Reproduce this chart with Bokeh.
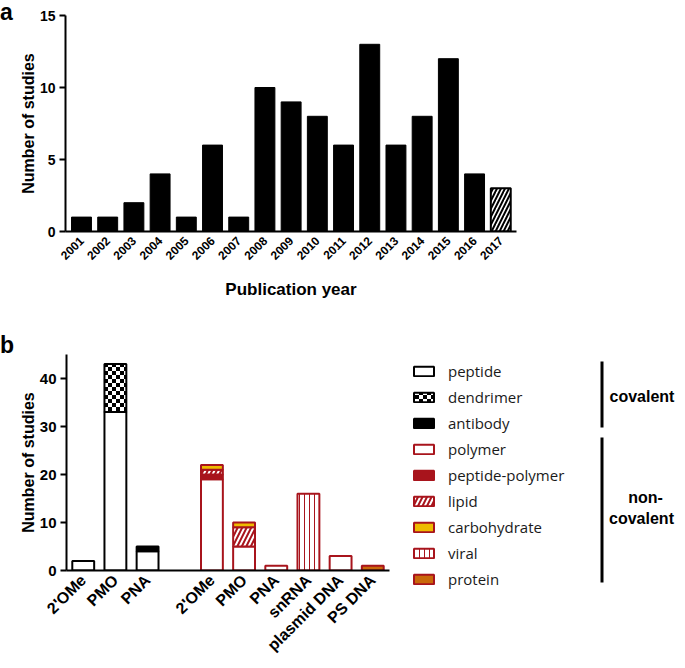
import numpy as np
from bokeh.plotting import figure
from bokeh.models import (ColumnDataSource, Range1d, FixedTicker, Label, Legend,
                          LegendItem, BoxAnnotation, CanvasTexture, Div)
from bokeh.layouts import column, row
from bokeh.embed import file_html
from bokeh.resources import INLINE
from bokeh.core.properties import value

# ---------------- panel a data ----------------
years = ["2001", "2002", "2003", "2004", "2005", "2006", "2007", "2008", "2009",
         "2010", "2011", "2012", "2013", "2014", "2015", "2016", "2017"]
studies = [1, 1, 2, 4, 1, 6, 1, 10, 9, 8, 6, 13, 6, 8, 12, 4, 3]
incomplete_years = ["2017"]
a_yticks = [0, 5, 10, 15]

# ---------------- panel b data ----------------
chemistries = ["2'OMe", "PMO", "PNA", "2'OMe", "PMO", "PNA", "snRNA", "plasmid DNA", "PS DNA"]
conjugation = ["covalent", "covalent", "covalent", "non-covalent", "non-covalent",
               "non-covalent", "non-covalent", "non-covalent", "non-covalent"]
peptide = [2, 33, 4, 0, 0, 0, 0, 0, 0]
dendrimer = [0, 10, 0, 0, 0, 0, 0, 0, 0]
antibody = [0, 0, 1, 0, 0, 0, 0, 0, 0]
polymer = [0, 0, 0, 19, 5, 1, 0, 3, 0]
peptide_polymer = [0, 0, 0, 1, 0, 0, 0, 0, 0]
lipid = [0, 0, 0, 1, 4, 0, 0, 0, 0]
carbohydrate = [0, 0, 0, 1, 1, 0, 0, 0, 0]
viral = [0, 0, 0, 0, 0, 0, 16, 0, 0]
protein = [0, 0, 0, 0, 0, 0, 0, 0, 1]
b_yticks = [0, 10, 20, 30, 40]

FONT = "Liberation Sans"
DARKRED = "#A8141C"


def style_axes(p, ytick_size="14px"):
    p.grid.visible = False
    p.outline_line_color = None
    p.background_fill_color = "white"
    p.border_fill_color = "white"
    p.frame_align = False
    for ax in p.axis:
        ax.axis_line_width = 2
        ax.axis_line_color = "black"
        ax.major_tick_line_width = 2
        ax.major_tick_line_color = "black"
        ax.minor_tick_line_color = None
        ax.major_label_text_font = FONT
        ax.major_label_text_font_style = "bold"
        ax.major_label_text_color = "black"
        ax.axis_label_text_font = FONT
        ax.axis_label_text_font_style = "bold"
        ax.axis_label_text_font_size = "16px"
        ax.axis_label_text_color = "black"
    for ax in p.yaxis:
        ax.major_tick_out = 6
        ax.major_tick_in = 0
        ax.major_label_standoff = 4
        ax.axis_label_standoff = 0
        ax.major_label_text_font_size = ytick_size
    for ax in p.xaxis:
        ax.major_tick_out = 0
        ax.major_tick_in = 0
        ax.major_tick_line_color = None
        ax.major_label_orientation = np.pi / 4


def panel_letter(letter, pad_top):
    return Div(text=('<div style="font: bold 23px/24px \'Liberation Sans\', Arial, sans-serif; '
                     'color: black; padding-top: %dpx; margin: 0">%s</div>' % (pad_top, letter)),
               width=16, height=60, margin=(0, 0, 0, 0))


# ---------------- panel a ----------------
xa = np.arange(len(years))
studies_arr = np.array(studies)
is_incomplete = np.array([y in incomplete_years for y in years])

p1 = figure(width=667, height=307, output_backend="svg", toolbar_location=None,
            x_range=Range1d(-0.61, len(years) - 1 + 0.6), y_range=Range1d(0, 15),
            min_border_left=47, min_border_right=167, min_border_top=15, min_border_bottom=76)

src_full = ColumnDataSource(dict(x=xa[~is_incomplete], top=studies_arr[~is_incomplete]))
src_part = ColumnDataSource(dict(x=xa[is_incomplete], top=studies_arr[is_incomplete]))
p1.vbar(x="x", top="top", width=0.76, source=src_full,
        fill_color="black", line_color="black", line_width=1)
p1.vbar(x="x", top="top", width=0.76, source=src_part,
        fill_color="white", line_color="black", line_width=2,
        hatch_pattern=value("/"), hatch_color="black", hatch_weight=2, hatch_scale=8)

style_axes(p1, "14px")
p1.xaxis.ticker = FixedTicker(ticks=[int(v) for v in xa])
p1.xaxis.major_label_overrides = {int(i): y for i, y in zip(xa, years)}
p1.xaxis.major_label_text_font_size = "12px"
p1.xaxis.major_label_standoff = 7
p1.xaxis.axis_label = "Publication year"
p1.xaxis.axis_label_text_font_size = "17px"
p1.xaxis.axis_label_standoff = 13
p1.yaxis.ticker = FixedTicker(ticks=a_yticks)
p1.yaxis.axis_label = "Number of studies"

# ---------------- panel b ----------------
# one empty slot between the covalent and non-covalent groups
xb = np.array([i if c == "covalent" else i + 1 for i, c in enumerate(conjugation)])

layers = [("peptide", peptide), ("dendrimer", dendrimer), ("antibody", antibody),
          ("polymer", polymer), ("peptide-polymer", peptide_polymer), ("lipid", lipid),
          ("carbohydrate", carbohydrate), ("viral", viral), ("protein", protein)]

checker = CanvasTexture(code="""
const c = ctx.canvas;
c.width = 8; c.height = 8;
ctx.setTransform(1, 0, 0, 1, 0, 0);
ctx.fillStyle = 'white';
ctx.fillRect(0, 0, 8, 8);
ctx.fillStyle = 'black';
ctx.fillRect(0, 0, 4, 4);
ctx.fillRect(4, 4, 4, 4);
""", repetition="repeat")

styles = {
    "peptide": dict(fill_color="white", line_color="black"),
    "dendrimer": dict(fill_color="white", line_color="black", hatch_pattern=value("checker"),
                      hatch_extra={"checker": checker}, hatch_color="black", hatch_scale=8),
    "antibody": dict(fill_color="black", line_color="black"),
    "polymer": dict(fill_color="white", line_color=DARKRED),
    "peptide-polymer": dict(fill_color=DARKRED, line_color=DARKRED),
    "lipid": dict(fill_color="white", line_color=DARKRED, hatch_pattern=value("/"),
                  hatch_color=DARKRED, hatch_weight=2, hatch_scale=9),
    "carbohydrate": dict(fill_color="#EEBB00", line_color=DARKRED),
    "viral": dict(fill_color="white", line_color=DARKRED, hatch_pattern=value("|"),
                  hatch_color=DARKRED, hatch_weight=1, hatch_scale=5),
    "protein": dict(fill_color="#C9680A", line_color=DARKRED),
}

p2 = figure(width=378, height=355, output_backend="svg", toolbar_location=None,
            x_range=Range1d(-0.52, xb.max() + 0.52), y_range=Range1d(0, 45),
            min_border_left=47, min_border_right=5, min_border_top=47, min_border_bottom=91)

# legend canvas: its ranges show no bars, only the legend and the group brackets
p3 = figure(width=289, height=355, output_backend="svg", toolbar_location=None,
            x_axis_type=None, y_axis_type=None,
            x_range=Range1d(-1001, -1000), y_range=Range1d(-1001, -1000),
            min_border=0, min_border_left=0, min_border_right=0, min_border_top=0,
            min_border_bottom=0)
p3.outline_line_color = None
p3.background_fill_color = "white"
p3.border_fill_color = "white"
p3.frame_align = False

bottom = np.zeros(len(chemistries))
legend_items = []
for name, vals in layers:
    v = np.array(vals, dtype=float)
    m = v > 0
    src = ColumnDataSource(dict(x=xb[m], bottom=bottom[m], top=(bottom + v)[m]))
    p2.vbar(x="x", bottom="bottom", top="top", width=0.68, source=src,
            line_width=2, **styles[name])
    proxy = p3.vbar(x="x", bottom="bottom", top="top", width=0.68, source=src,
                    line_width=2, visible=False, **styles[name])
    legend_items.append(LegendItem(label=name, renderers=[proxy]))
    bottom = bottom + v

style_axes(p2, "15px")
p2.xaxis.ticker = FixedTicker(ticks=[int(v) for v in xb])
p2.xaxis.major_label_overrides = {int(x): c for x, c in zip(xb, chemistries)}
p2.xaxis.major_label_text_font_size = "16px"
p2.xaxis.major_label_standoff = 7
p2.yaxis.ticker = FixedTicker(ticks=b_yticks)
p2.yaxis.axis_label = "Number of studies"

legend = Legend(items=legend_items, location=(17, 73), orientation="vertical",
                glyph_width=25, glyph_height=12, label_height=20, spacing=6,
                label_standoff=12, padding=0, margin=0, border_line_color=None,
                background_fill_alpha=0, inactive_fill_alpha=0, click_policy="none",
                label_text_font="Open Sans",
                label_text_font_size="15px", label_text_color="#1a1a1a")
p3.add_layout(legend, "center")

for b0, b1 in [(235, 301), (80, 225)]:
    p3.add_layout(BoxAnnotation(left=206, right=209, bottom=b0, top=b1,
                                left_units="screen", right_units="screen",
                                bottom_units="screen", top_units="screen",
                                fill_color="black", fill_alpha=1, line_color=None))
for txt, x, y, align in [("covalent", 215, 266, "left"), ("non-", 251, 165, "center"),
                         ("covalent", 247, 144, "center")]:
    p3.add_layout(Label(x=x, y=y, x_units="screen", y_units="screen", text=txt,
                        text_font=FONT, text_font_style="bold", text_font_size="16px",
                        text_align=align, text_baseline="middle", text_color="black"))

layout = column(row(panel_letter("a", 0), p1),
                row(panel_letter("b", 26), p2, p3))
open("out.html", "w").write(file_html(layout, INLINE))
